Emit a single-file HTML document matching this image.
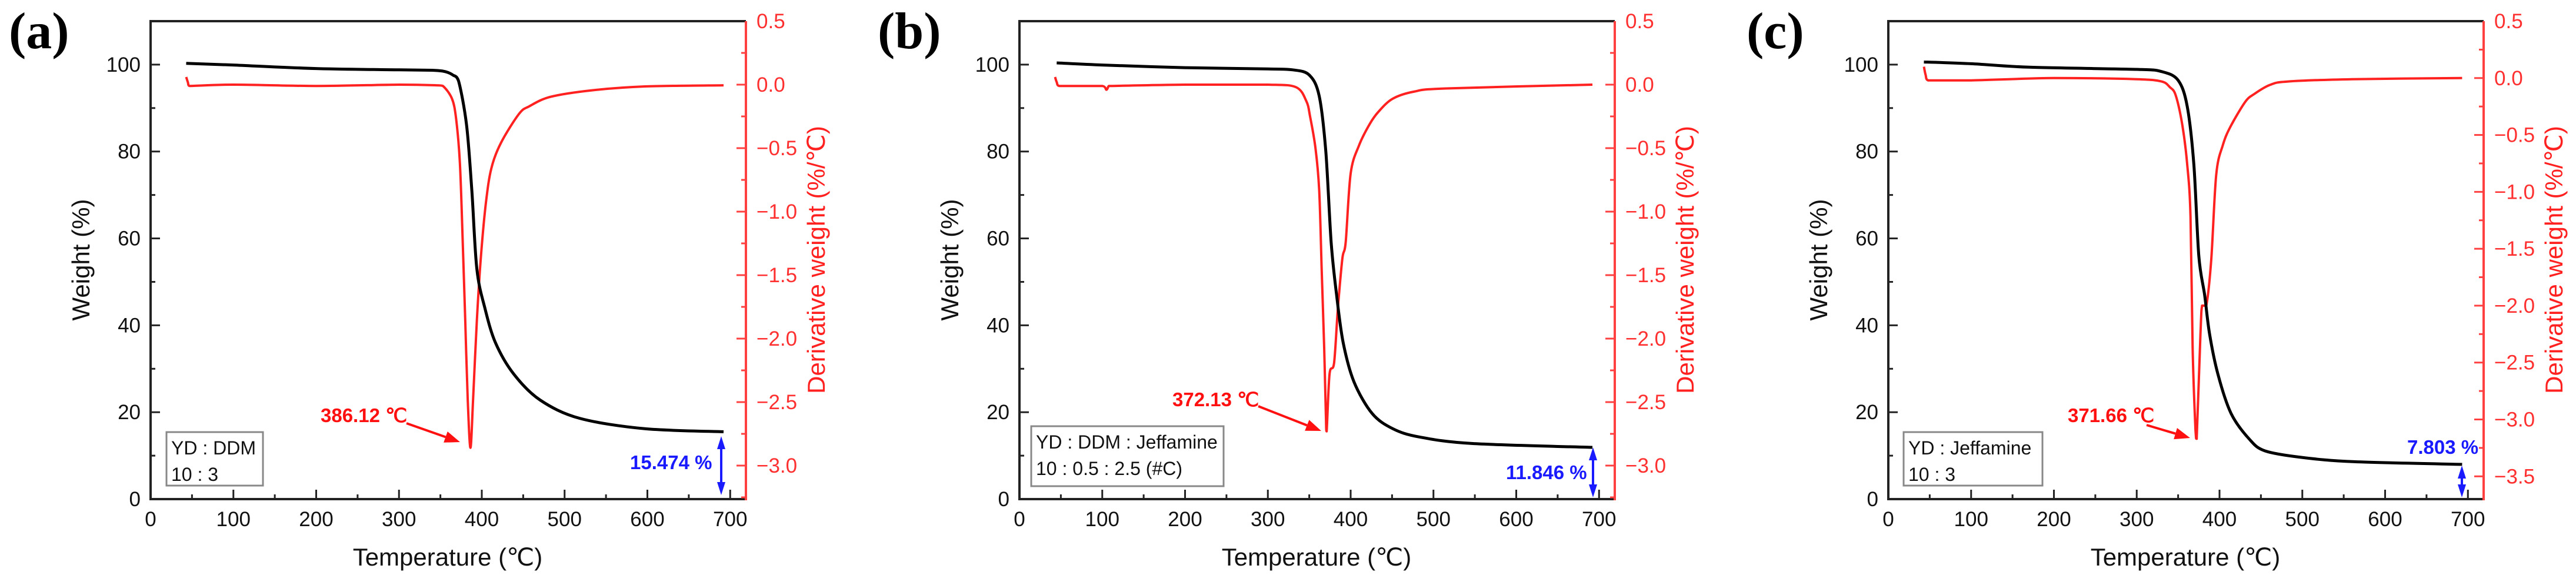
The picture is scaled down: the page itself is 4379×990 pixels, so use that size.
<!DOCTYPE html>
<html><head><meta charset="utf-8"><style>
html,body{margin:0;padding:0;background:#fff;}
svg{display:block;}
text{font-family:"Liberation Sans",Arial,sans-serif;}
</style></head><body>
<svg id="chart" width="4379" height="990" viewBox="0 0 4379 990" xmlns="http://www.w3.org/2000/svg"></svg>
<script>
// ---- Data ----
const xTicks = [0,100,200,300,400,500,600,700];
const wTicks = [0,20,40,60,80,100];
const dTicksAB = [0.5,0.0,-0.5,-1.0,-1.5,-2.0,-2.5,-3.0];
const dTicksC = [0.5,0.0,-0.5,-1.0,-1.5,-2.0,-2.5,-3.0,-3.5];

const wTempA = [43,100,200,300,340,353,359,365,372,381.6,388,394,403.7,416.5,438.5,470.5,518,597,692];
const wValA  = [100.3,99.9,99.1,98.8,98.7,98.5,98.2,97.6,96.2,86.1,71,53,44,36,28.8,22.8,18.6,16.2,15.5];
const dTempA = [43,45,47,100,200,300,345,353,364,369,373.6,377,380,383,386.3,389.5,394,399,405,411.5,423,445,457.5,483,534,597,692];
const dValA  = [0.06,0.02,-0.01,0,-0.01,0,-0.005,-0.01,-0.11,-0.27,-0.62,-1.24,-1.86,-2.48,-2.86,-2.48,-1.86,-1.35,-0.93,-0.66,-0.46,-0.23,-0.17,-0.096,-0.044,-0.014,-0.005];

const wTempB = [45,100,200,300,330,350,362,370,376.5,383,391,404,426,451,483,546.5,692];
const wValB  = [100.4,99.9,99.3,99.0,98.8,97.6,92.8,80,59,47,36,27,19.7,16.2,14.3,12.8,11.9];
const dTempB = [43,45,48,100,105,108,112,200,300,334,346.5,351,357.5,362,365,368,370,371,374.5,380,384.6,390,394,400,410,423,434,451,476.5,514.5,692];
const dValB  = [0.06,0.02,-0.01,-0.01,-0.04,-0.01,-0.01,0,0,-0.02,-0.13,-0.25,-0.5,-0.83,-1.45,-2.07,-2.59,-2.73,-2.28,-2.19,-1.76,-1.37,-1.24,-0.70,-0.48,-0.31,-0.21,-0.11,-0.055,-0.03,0];

const wTempC = [43,100,170,300,330,350,361,369,375,382,388,398,414,436,455,499,563,693];
const wValC  = [100.6,100.2,99.4,98.9,98.4,96.4,90.4,77,56,47,38,28.8,19.7,13.8,11.1,9.6,8.6,8.0];
const dTempC = [43,45,48,100,200,300,330,340,347,355,361,365,367.5,371,372.4,377,379,384,390,396,404,413,431,442,461,483,560,693];
const dValC  = [0.1,0.03,-0.02,-0.02,0,-0.01,-0.03,-0.08,-0.15,-0.41,-0.76,-1.22,-2.37,-3.1,-3.17,-2.25,-2.0,-2.0,-1.6,-0.85,-0.59,-0.43,-0.21,-0.14,-0.06,-0.03,-0.01,0.0];

const labels = ["(a)","(b)","(c)"];
const peaks = ["386.12 ℃","372.13 ℃","371.66 ℃"];
const residues = ["15.474 %","11.846 %","7.803 %"];

const NS="http://www.w3.org/2000/svg";
const svg=document.getElementById('chart');
function mk(tag,attrs,parent){const e=document.createElementNS(NS,tag);for(const k in attrs)e.setAttribute(k,attrs[k]);(parent||svg).appendChild(e);return e;}
function smoothPath(pts){
  let d='M'+pts[0][0].toFixed(1)+','+pts[0][1].toFixed(1);
  for(let i=0;i<pts.length-1;i++){
    const p0=pts[i-1]||pts[i],p1=pts[i],p2=pts[i+1],p3=pts[i+2]||p2;
    const t=0.16;
    let c1x=p1[0]+(p2[0]-p0[0])*t,c1y=p1[1]+(p2[1]-p0[1])*t;
    let c2x=p2[0]-(p3[0]-p1[0])*t,c2y=p2[1]-(p3[1]-p1[1])*t;
    // clamp x so control points stay within segment (avoid loops)
    c1x=Math.min(Math.max(c1x,p1[0]),p2[0]);c2x=Math.min(Math.max(c2x,p1[0]),p2[0]);
    const lo=Math.min(p1[1],p2[1]),hi=Math.max(p1[1],p2[1]);
    c1y=Math.min(Math.max(c1y,lo),hi);c2y=Math.min(Math.max(c2y,lo),hi);
    d+=` C${c1x.toFixed(1)},${c1y.toFixed(1)} ${c2x.toFixed(1)},${c2y.toFixed(1)} ${p2[0].toFixed(1)},${p2[1].toFixed(1)}`;
  }
  return d;
}

const TOP=36,BOT=849,PW=1012,XMAX=719;
const panels=[
 {x0:256,wT:wTempA,wV:wValA,dT:dTempA,dV:dValA,dMin:-3.264,dTicks:dTicksAB,
  box:[283,735,164,91],boxL:["YD : DDM","10 : 3"],pk:[545,718],ar:[691,720,782,752],
  res:[1071,798],dbl:[1226,742,842]},
 {x0:1733,wT:wTempB,wV:wValB,dT:dTempB,dV:dValB,dMin:-3.264,dTicks:dTicksAB,
  box:[1753,725,327,102],boxL:["YD : DDM : Jeffamine","10 : 0.5 : 2.5 (#C)"],pk:[1993,691],ar:[2139,691,2246,733],
  res:[2560,815],dbl:[2708,761,846]},
 {x0:3210,wT:wTempC,wV:wValC,dT:dTempC,dV:dValC,dMin:-3.7,dTicks:dTicksC,
  box:[3236,735,236,91],boxL:["YD : Jeffamine","10 : 3"],pk:[3515,718],ar:[3649,723,3723,745],
  res:[4092,772],dbl:[4185,792,846]}
];

panels.forEach((p,i)=>{
  const g=mk('g',{});
  
  
  const xS=t=>p.x0+t/XMAX*PW;
  const wS=w=>BOT-(w/110)*(BOT-TOP);
  const dS=d=>TOP+(0.5-d)/(0.5-p.dMin)*(BOT-TOP);
  const R=p.x0+PW;

  const pl=mk('text',{x:p.x0-241,y:82,'font-size':88,'font-weight':'bold',style:'font-family:"Liberation Serif",serif'},g);
  pl.textContent=labels[i];
  
  

  const dPts=p.dT.map((t,k)=>[xS(t),dS(p.dV[k])]);
  const dl=mk('path',{d:smoothPath(dPts),fill:'none',stroke:'#ff2020','stroke-width':4,'stroke-linejoin':'round'},g);
  
  
  const wPts=p.wT.map((t,k)=>[xS(t),wS(p.wV[k])]);
  const wl=mk('path',{d:smoothPath(wPts),fill:'none',stroke:'#000','stroke-width':5,'stroke-linejoin':'round'},g);
  
  

  const ax=mk('path',{d:`M${R},${TOP} L${p.x0},${TOP} L${p.x0},${BOT} L${R},${BOT}`,fill:'none',stroke:'#222','stroke-width':4},g);
  
  
  const ra=mk('line',{x1:R,y1:TOP,x2:R,y2:BOT+2,stroke:'#ff4040','stroke-width':4},g);
  
  

  for(let t=50;t<XMAX;t+=50){
    const major=t%100===0;
    mk('line',{x1:xS(t),y1:BOT,x2:xS(t),y2:BOT-(major?16:8),stroke:'#222','stroke-width':3},g);
  }
  xTicks.forEach(t=>{
    const tx=mk('text',{x:xS(t),y:895,'font-size':35,'text-anchor':'middle',fill:'#111'},g);
    tx.textContent=t;
    
    
  });
  for(let w=10;w<=100;w+=10){
    const major=w%20===0;
    mk('line',{x1:p.x0,y1:wS(w),x2:p.x0+(major?16:8),y2:wS(w),stroke:'#222','stroke-width':3},g);
  }
  wTicks.forEach(w=>{
    const tx=mk('text',{x:p.x0-17,y:wS(w)+12,'font-size':35,'text-anchor':'end',fill:'#111'},g);
    tx.textContent=w;
    
    
  });
  for(let d=0.25;d>p.dMin;d-=0.25){
    const major=Math.abs(Math.round(d*2)-d*2)<1e-6;
    mk('line',{x1:R,y1:dS(d),x2:R-(major?16:8),y2:dS(d),stroke:'#ff4040','stroke-width':3},g);
  }
  p.dTicks.forEach(d=>{
    const tx=mk('text',{x:R+18,y:dS(d)+12,'font-size':35,fill:'#ff3030'},g);
    tx.textContent=(d<0?'\u2212':'')+Math.abs(d).toFixed(1);
    
    
  });

  const yt=mk('text',{x:p.x0-104,y:442,'font-size':42,'text-anchor':'middle',transform:`rotate(-90 ${p.x0-104} 442)`,fill:'#111'},g);
  yt.textContent='Weight (%)';
  
  
  const y2x=R+134;
  const y2=mk('text',{x:y2x,y:442,'font-size':42,'text-anchor':'middle',transform:`rotate(-90 ${y2x} 442)`,fill:'#ff2020'},g);
  y2.textContent='Derivative weight (%/℃)';
  
  
  const xt=mk('text',{x:p.x0+505,y:962,'font-size':42,'text-anchor':'middle',fill:'#111'},g);
  xt.textContent='Temperature (℃)';
  
  

  const bx=mk('rect',{x:p.box[0],y:p.box[1],width:p.box[2],height:p.box[3],fill:'#fff',stroke:'#888','stroke-width':3},g);
  
  
  p.boxL.forEach((s,k)=>{
    const tx=mk('text',{x:p.box[0]+8,y:p.box[1]+38+k*45,'font-size':32,fill:'#111'},g);
    tx.textContent=s;
    
    
  });

  const pk=mk('text',{x:p.pk[0],y:p.pk[1],'font-size':33,'font-weight':'bold',fill:'#ff1010'},g);
  pk.textContent=peaks[i];
  
  
  const [ax1,ay1,ax2,ay2]=p.ar;
  const ang=Math.atan2(ay2-ay1,ax2-ax1);
  const hl=26,hw=10;
  const bx2=ax2-hl*Math.cos(ang),by2=ay2-hl*Math.sin(ang);
  const al=mk('line',{x1:ax1,y1:ay1,x2:bx2,y2:by2,stroke:'#ff1010','stroke-width':4},g);
  
  
  mk('polygon',{points:`${ax2},${ay2} ${bx2-hw*Math.sin(ang)},${by2+hw*Math.cos(ang)} ${bx2+hw*Math.sin(ang)},${by2-hw*Math.cos(ang)}`,fill:'#ff1010'},g);

  const rs=mk('text',{x:p.res[0],y:p.res[1],'font-size':33,'font-weight':'bold',fill:'#1a1aff'},g);
  rs.textContent=residues[i];
  
  
  const [dx,dy1,dy2]=p.dbl;
  const dl2=mk('line',{x1:dx,y1:dy1+18,x2:dx,y2:dy2-18,stroke:'#1a1aff','stroke-width':4},g);
  
  
  mk('polygon',{points:`${dx},${dy1} ${dx-7},${dy1+22} ${dx+7},${dy1+22}`,fill:'#1a1aff'},g);
  mk('polygon',{points:`${dx},${dy2} ${dx-7},${dy2-22} ${dx+7},${dy2-22}`,fill:'#1a1aff'},g);
});
</script>
</body></html>
